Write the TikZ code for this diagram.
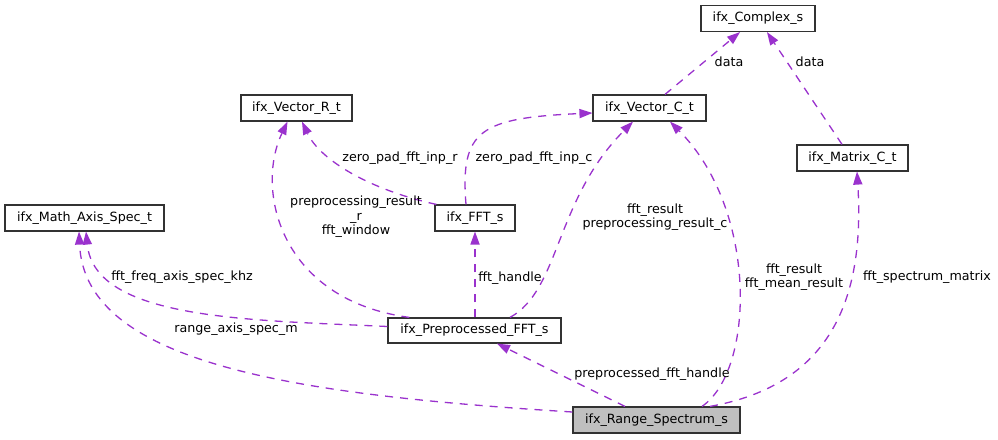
\documentclass[tikz,border=0pt]{standalone}
\usepackage{fontspec}
\setmainfont{DejaVu Sans}
\usetikzlibrary{arrows.meta}
\definecolor{edgepurple}{RGB}{154,50,205}
\definecolor{boxgray}{RGB}{191,191,191}
\definecolor{boxborder}{RGB}{50,50,50}
\begin{document}
\begin{tikzpicture}[x=1pt,y=-1pt,
  cls/.style={draw=boxborder, line width=1.2pt, fill=white, minimum height=26pt, inner sep=0pt,
    font=\fontsize{12.7}{14.5}\selectfont},
  lbl/.style={inner sep=0pt, align=center, font=\fontsize{12.7}{14.5}\selectfont},
  edge/.style={draw=edgepurple, line width=1.3pt, dash pattern=on 8pt off 7pt,
    -{Triangle[length=13pt,width=9.5pt,fill=edgepurple,line width=0pt]}}]
\useasboundingbox (0,0) rectangle (998,439);

% classes
\node[cls, minimum width=114pt] (CS) at (758,18.5) {ifx\_Complex\_s};
\node[cls, minimum width=113pt] (VC) at (649.5,108) {ifx\_Vector\_C\_t};
\node[cls, minimum width=111pt] (MC) at (852.5,158) {ifx\_Matrix\_C\_t};
\node[cls, minimum width=111pt] (VR) at (296.5,108) {ifx\_Vector\_R\_t};
\node[cls, minimum width=80pt] (FFT) at (475,218) {ifx\_FFT\_s};
\node[cls, minimum width=159pt] (MA) at (84.5,218) {ifx\_Math\_Axis\_Spec\_t};
\node[cls, minimum width=173pt, minimum height=25pt] (PP) at (474.5,330.5) {ifx\_Preprocessed\_FFT\_s};
\node[cls, minimum width=167pt, fill=boxgray] (RS) at (656.5,420) {ifx\_Range\_Spectrum\_s};

% connectors
\draw[edge] ([xshift=15.5pt]VC.north) -- ([xshift=-18pt]CS.south);
\draw[edge] ([xshift=-10.5pt]MC.north) -- ([xshift=9pt]CS.south);

\draw[edge] ([xshift=2pt]FFT.north west) .. controls (370,190) and (320,160) .. ([xshift=5.5pt]VR.south);
\draw[edge] ([xshift=-9pt]FFT.north) .. controls (460,130) and (480,118) .. ([yshift=-5pt]VC.west);

\draw[edge] ([xshift=22pt]PP.north west) .. controls (280,300) and (255,190) .. ([xshift=-9pt]VR.south);
\draw[edge] (PP.north -| FFT.south) -- (FFT.south);
\draw[edge] ([xshift=35.5pt]PP.north) .. controls (560,290) and (555,200) .. ([xshift=-16.5pt]VC.south);
\draw[edge] ([yshift=4pt]PP.west) .. controls (250,320) and (95,320) .. ([xshift=1.5pt]MA.south);

\draw[edge] ([yshift=8pt]RS.west) .. controls (300,395) and (85,365) .. ([xshift=-5.5pt]MA.south);
\draw[edge] ([xshift=-31.5pt]RS.north) -- ([xshift=22.5pt]PP.south);
\draw[edge] ([xshift=45.5pt]RS.north) .. controls (755,370) and (758,210) .. ([xshift=20.5pt]VC.south);
\draw[edge] ([xshift=53.5pt]RS.north) .. controls (830,385) and (865,300) .. ([xshift=4.5pt]MC.south);

% labels
\node[lbl] (l1) at (729,62) {data};
\node[lbl] (l2) at (810,62) {data};
\node[lbl] (l3) at (400,158) {zero\_pad\_fft\_inp\_r};
\node[lbl] (l4) at (534,158) {zero\_pad\_fft\_inp\_c};
\node[lbl] (l5) at (356,217) {preprocessing\_result\\\_r\\fft\_window};
\node[lbl] (l6) at (510,278) {fft\_handle};
\node[lbl] (l7) at (655,217) {fft\_result\\preprocessing\_result\_c};
\node[lbl] (l8) at (182,277) {fft\_freq\_axis\_spec\_khz};
\node[lbl] (l9) at (236,329) {range\_axis\_spec\_m};
\node[lbl] (l10) at (652,374) {preprocessed\_fft\_handle};
\node[lbl] (l11) at (794,277) {fft\_result\\fft\_mean\_result};
\node[lbl] (l12) at (927,277) {fft\_spectrum\_matrix};
\end{tikzpicture}
\end{document}
